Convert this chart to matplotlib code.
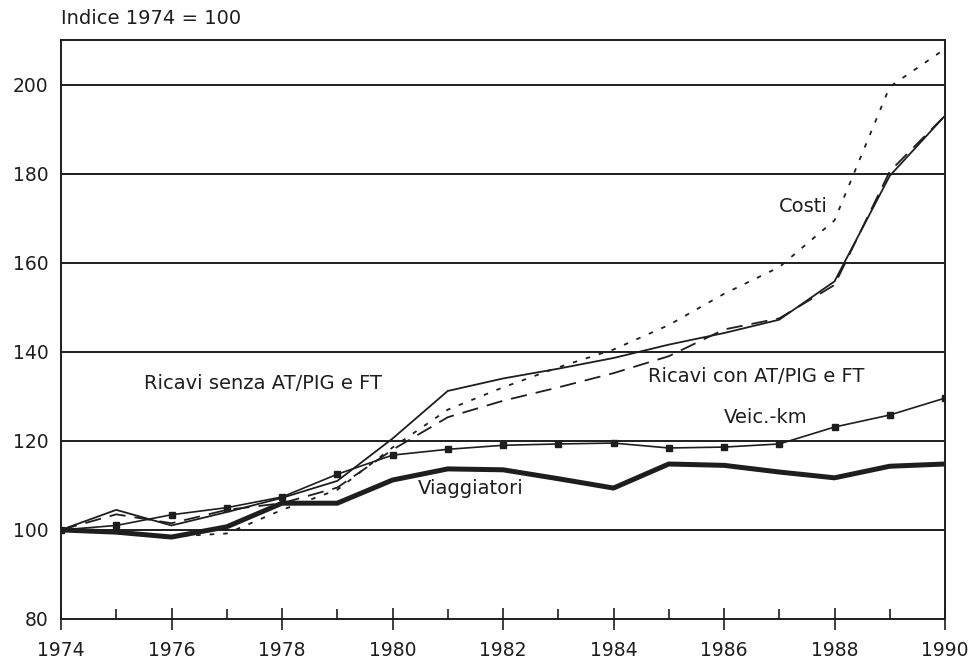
import matplotlib
matplotlib.use("Agg")
import matplotlib.pyplot as plt

# Indice 1974 = 100
anni = list(range(1974, 1991))
ricavi_senza = [100, 104.5, 101, 104, 107.2, 111, 120.5, 131.2, 134, 136.2, 138.6, 141.6, 144.2, 147.2, 155.8, 179.5, 193]
ricavi_con = [100, 103.5, 101.5, 104.5, 106, 109.5, 118, 125.3, 129, 132, 135.2, 139, 145, 147.5, 155, 180.5, 193]
costi = [100, 99.5, 98.5, 99.2, 104.5, 109, 118.5, 127, 132, 136.5, 140.5, 146, 153, 159, 169.5, 199.5, 208]
veic_km = [100, 101, 103.4, 105, 107.4, 112.5, 116.8, 118.1, 119, 119.3, 119.5, 118.4, 118.6, 119.3, 123.1, 125.8, 129.6]
viaggiatori = [100, 99.5, 98.4, 100.7, 106, 106, 111.2, 113.7, 113.5, 111.5, 109.4, 114.8, 114.5, 113, 111.7, 114.3, 114.8]

ink = "#1e1e1e"
plt.rcParams["font.family"] = "DejaVu Sans"

fig = plt.figure(figsize=(9.77, 6.65), dpi=100)
ax = fig.add_axes([61 / 977, 46 / 665, 884 / 977, 579 / 665])

for y in range(100, 201, 20):
    ax.axhline(y, color=ink, lw=1.4, zorder=1)

ax.plot(anni, costi, color=ink, lw=1.3, linestyle=(0, (2.5, 5)), zorder=3)
ax.plot(anni, ricavi_con, color=ink, lw=1.3, linestyle=(0, (9, 5)), zorder=3)
ax.plot(anni, ricavi_senza, color=ink, lw=1.3, zorder=3)
ax.plot(anni, veic_km, color=ink, lw=1.2, marker="s", markersize=4.5, zorder=4)
ax.plot(anni, viaggiatori, color=ink, lw=3.6, solid_joinstyle="round", zorder=5)

ax.set_xlim(1974, 1990)
ax.set_ylim(80, 210)
ax.set_xticks(range(1974, 1991, 2))
ax.set_xticks(range(1975, 1990, 2), minor=True)
ax.set_yticks(range(80, 201, 20))
ax.tick_params(axis="x", which="major", direction="inout", length=16, width=1.2,
               pad=8, labelsize=13.5, colors=ink)
ax.tick_params(axis="x", which="minor", direction="in", length=7, width=1.2, colors=ink)
ax.tick_params(axis="y", length=0, pad=9, labelsize=13.5, colors=ink)
for s in ax.spines.values():
    s.set_color(ink)
    s.set_linewidth(1.4)

lab = dict(fontsize=14, color=ink, va="center")
ax.text(1975.5, 132.8, "Ricavi senza AT/PIG e FT", ha="left", **lab)
ax.text(1984.62, 134.5, "Ricavi con AT/PIG e FT", ha="left", **lab)
ax.text(1986.0, 125.2, "Veic.-km", ha="left", **lab)
ax.text(1987.0, 172.6, "Costi", ha="left", **lab)
ax.text(1980.45, 109.4, "Viaggiatori", ha="left", **lab)

fig.text(61 / 977, 1 - 19 / 665, "Indice 1974 = 100", fontsize=14, color=ink,
         ha="left", va="center")

fig.savefig("out.png", dpi=100)
